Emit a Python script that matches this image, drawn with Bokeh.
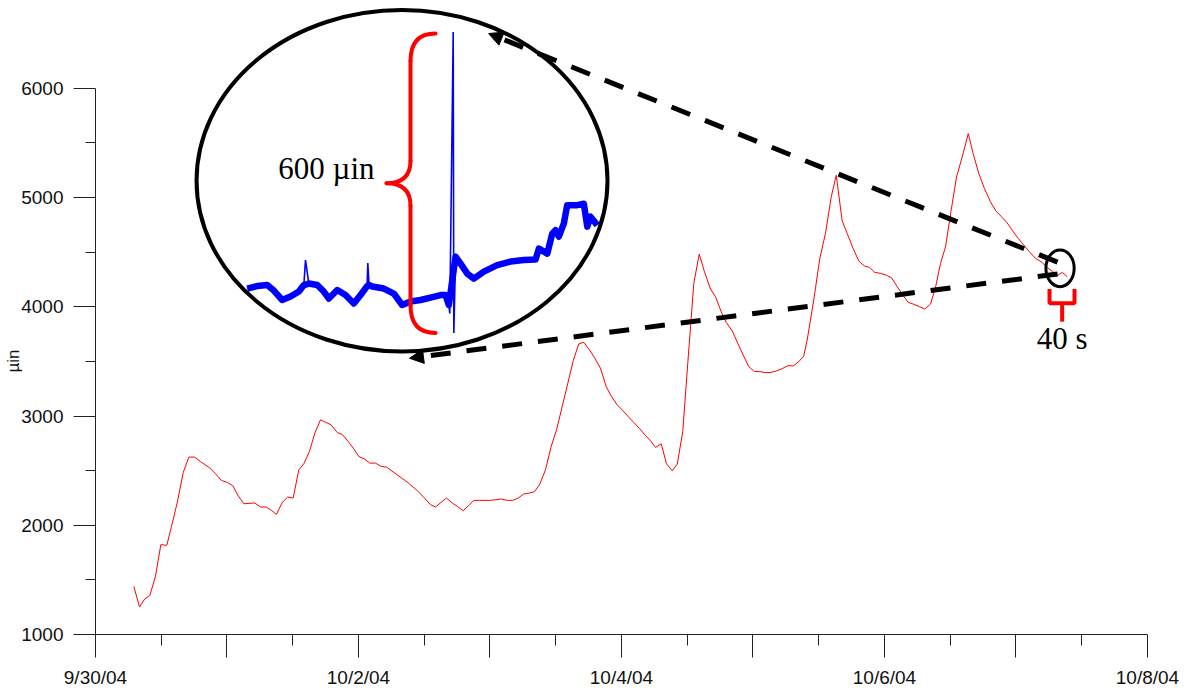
from bokeh.plotting import figure
from bokeh.models import Range1d, FixedTicker, Label, Arrow, NormalHead, Title
from bokeh.embed import file_html
from bokeh.resources import INLINE

# ---------------- data ----------------
# main record: time in days after 9/30/04 00:00, strain in µin
days = [0.291,0.335,0.375,0.413,0.456,0.497,0.542,0.578,0.621,0.667,
        0.710,0.753,0.798,0.869,0.913,0.958,1.002,1.044,1.085,1.128,
        1.211,1.255,1.298,1.338,1.376,1.420,1.462,1.503,1.546,1.584,
        1.627,1.668,1.711,1.749,1.792,1.838,1.876,1.922,1.964,2.002,
        2.046,2.086,2.129,2.173,2.213,2.294,2.370,2.454,2.497,2.548,
        2.586,2.631,2.669,2.713,2.755,2.796,2.839,2.877,2.920,3.004,
        3.087,3.131,3.173,3.214,3.257,3.300,3.338,3.379,3.422,3.465,
        3.506,3.549,3.592,3.633,3.675,3.713,3.757,3.797,3.840,3.884,
        3.924,3.967,4.010,4.051,4.094,4.137,4.177,4.221,4.259,4.302,
        4.342,4.386,4.424,4.466,4.504,4.550,4.591,4.631,4.677,4.715,
        4.758,4.798,4.842,4.884,4.925,4.968,5.011,5.052,5.095,5.138,
        5.179,5.222,5.265,5.306,5.348,5.386,5.412,5.462,5.508,5.551,
        5.595,5.633,5.678,5.716,5.759,5.805,5.848,5.886,5.926,5.970,
        6.013,6.053,6.097,6.139,6.180,6.223,6.266,6.306,6.350,6.388,
        6.426,6.464,6.507,6.548,6.591,6.637,6.674,6.717,6.760,6.806,
        6.849,6.895,6.933,6.976,7.017,7.059,7.103,7.148,7.192,7.237,
        7.280,7.313,7.352,7.390]
strain = [1441,1253,1326,1356,1533,1823,1816,1990,2204,2483,
          2624,2624,2584,2524,2472,2410,2392,2362,2270,2197,
          2204,2167,2167,2136,2100,2209,2259,2249,2508,2563,
          2675,2844,2965,2944,2919,2849,2831,2767,2700,2630,
          2606,2569,2569,2538,2533,2462,2396,2310,2255,2188,
          2167,2213,2249,2204,2170,2133,2182,2228,2228,2228,
          2240,2228,2228,2249,2286,2295,2307,2377,2508,2721,
          2874,3087,3301,3507,3660,3675,3605,3529,3438,3269,
          3178,3102,3050,2995,2940,2886,2828,2773,2712,2746,
          2563,2499,2560,2858,3483,4215,4482,4321,4162,4092,
          3955,3854,3779,3666,3559,3452,3407,3407,3397,3400,
          3413,3434,3461,3459,3498,3550,3696,4062,4443,4672,
          5006,5204,4787,4672,4540,4418,4373,4361,4315,4306,
          4290,4266,4183,4108,4041,4023,4001,3980,4025,4178,
          4397,4549,4885,5189,5372,5585,5403,5220,5083,4960,
          4875,4818,4768,4693,4626,4565,4503,4443,4412,4361,
          4321,4284,4315,4275]

x_tick_days = [0, 1, 2, 3, 4, 5, 6, 7, 8]
x_tick_labels = ["9/30/04", "", "10/2/04", "", "10/4/04", "", "10/6/04", "", "10/8/04"]
x_minor_days = [0.5, 1.5, 2.5, 3.5, 4.5, 5.5, 6.5, 7.5]
y_ticks = [1000, 2000, 3000, 4000, 5000, 6000]
y_minor = [1500, 2500, 3500, 4500, 5500]
y_title = "µin"

# zoomed 40 s record (seconds, µin relative)
inset_t = [0.0,1.14,2.29,3.04,4.0,4.95,5.9,6.47,6.66,7.04,8.0,8.75,9.33,10.29,11.23,
           12.18,12.95,13.7,13.78,13.92,14.29,15.61,16.75,17.71,18.66,19.81,20.95,22.1,
           22.66,23.04,23.15,23.54,23.61,23.81,24.38,25.14,25.9,27.04,28.57,30.09,31.61,
           32.95,33.33,34.29,34.86,35.23,35.61,36.18,36.57,37.71,38.47,38.86,39.23,40.0]
inset_u = [89,94,96,85,66,73,83,96,146,99,96,83,69,86,76,
           59,76,94,140,96,93,89,79,56,63,66,71,76,
           76,56,39,603,0,153,139,119,109,123,136,143,146,
           147,169,159,199,206,193,219,256,256,259,213,233,216]
inset_transient = [8, 18, 30, 31, 32]   # narrow transient samples

# ---------------- figure ----------------
p = figure(width=1185, height=690, output_backend="svg", toolbar_location=None,
           x_range=Range1d(0, 8.289), y_range=Range1d(1000, 6804),
           min_border_left=95, min_border_right=0, min_border_top=0, min_border_bottom=55)
p.extra_x_ranges = {"inset_t": Range1d(-17.34, 107.23)}
p.extra_y_ranges = {"inset_u": Range1d(-604, 666)}
p.xgrid.visible = False
p.ygrid.visible = False
p.outline_line_color = None
p.background_fill_color = "white"
p.border_fill_color = "white"

xa = p.xaxis[0]
xa.ticker = FixedTicker(ticks=x_tick_days, minor_ticks=x_minor_days)
xa.major_label_overrides = {d: lab for d, lab in zip(x_tick_days, x_tick_labels)}
xa.bounds = (0, 8)
xa.major_tick_out = 23
xa.major_tick_in = 0
xa.minor_tick_out = 11
xa.minor_tick_in = 0
xa.major_label_standoff = 9

ya = p.yaxis[0]
ya.ticker = FixedTicker(ticks=y_ticks, minor_ticks=y_minor)
ya.bounds = (1000, 6000)
ya.major_tick_out = 22
ya.major_tick_in = 0
ya.minor_tick_out = 10
ya.minor_tick_in = 0
ya.major_label_standoff = 10

for ax in (xa, ya):
    ax.axis_line_color = "#222222"
    ax.major_tick_line_color = "#222222"
    ax.minor_tick_line_color = "#222222"
    ax.major_label_text_font = "Liberation Sans"
    ax.major_label_text_font_size = "19px"
    ax.major_label_text_font_style = "normal"
    ax.major_label_text_color = "#111111"

# y-axis title, placed along the axis like the reference
p.add_layout(Title(text=y_title, align="left", offset=262, standoff=-10,
                   vertical_align="middle", text_font="Liberation Sans",
                   text_font_size="17px", text_font_style="normal",
                   text_color="#111111"), "left")

# main record
p.line(days, strain, line_color="#ff0000", line_width=1)

# ---------------- inset ----------------
band_t = [t for i, t in enumerate(inset_t) if i not in inset_transient]
band_u = [u for i, u in enumerate(inset_u) if i not in inset_transient]
p.line(inset_t, inset_u, x_range_name="inset_t", y_range_name="inset_u",
       line_color="#0000ff", line_width=1.6)
p.line(band_t, band_u, x_range_name="inset_t", y_range_name="inset_u",
       line_color="#0000ff", line_width=6.5, line_join="round")

# 600 µin brace
p.quadratic(x0=[21.52, 18.66, 15.92, 18.66], y0=[600, 345, 300, 55],
            x1=[18.66, 15.92, 18.66, 21.52], y1=[545, 300, 255, 0],
            cx=[18.66, 18.66, 18.66, 18.66], cy=[600, 300, 300, 0],
            x_range_name="inset_t", y_range_name="inset_u",
            line_color="#ff0000", line_width=4, line_cap="round")
p.segment(x0=[18.66, 18.66], y0=[545, 255], x1=[18.66, 18.66], y1=[345, 55],
          x_range_name="inset_t", y_range_name="inset_u",
          line_color="#ff0000", line_width=4, line_cap="round")
p.add_layout(Label(x=14.55, y=330, x_range_name="inset_t", y_range_name="inset_u",
                   text="600 µin", text_align="right", text_baseline="alphabetic",
                   text_font="Liberation Serif", text_font_size="31px", text_color="black"))

# ellipse round the inset, small circle round the 40 s window
p.ellipse(x=2.331, y=5154, width=3.125, height=3126, fill_color=None,
          line_color="black", line_width=4)
p.ellipse(x=7.335, y=4352, width=0.215, height=335, fill_color=None,
          line_color="black", line_width=3)

# 40 s bracket
p.multi_line(xs=[[7.255, 7.255, 7.445, 7.445], [7.351, 7.351]],
             ys=[[4162, 4032, 4032, 4162], [4032, 3864]],
             line_color="#ff0000", line_width=4)
p.add_layout(Label(x=7.351, y=3706, text="40 s", text_align="center", text_baseline="alphabetic",
                   text_font="Liberation Serif", text_font_size="31px", text_color="black"))

# dashed arrows
for xs, ys, xe, ye in [(7.316, 4409, 2.989, 6502), (7.316, 4300, 2.388, 3529)]:
    p.add_layout(Arrow(end=NormalHead(size=14, fill_color="black", line_color="black"),
                       x_start=xs, y_start=ys, x_end=xe, y_end=ye,
                       line_color="black", line_width=5, line_dash="20 16"))

open("out.html", "w").write(file_html(p, INLINE))
